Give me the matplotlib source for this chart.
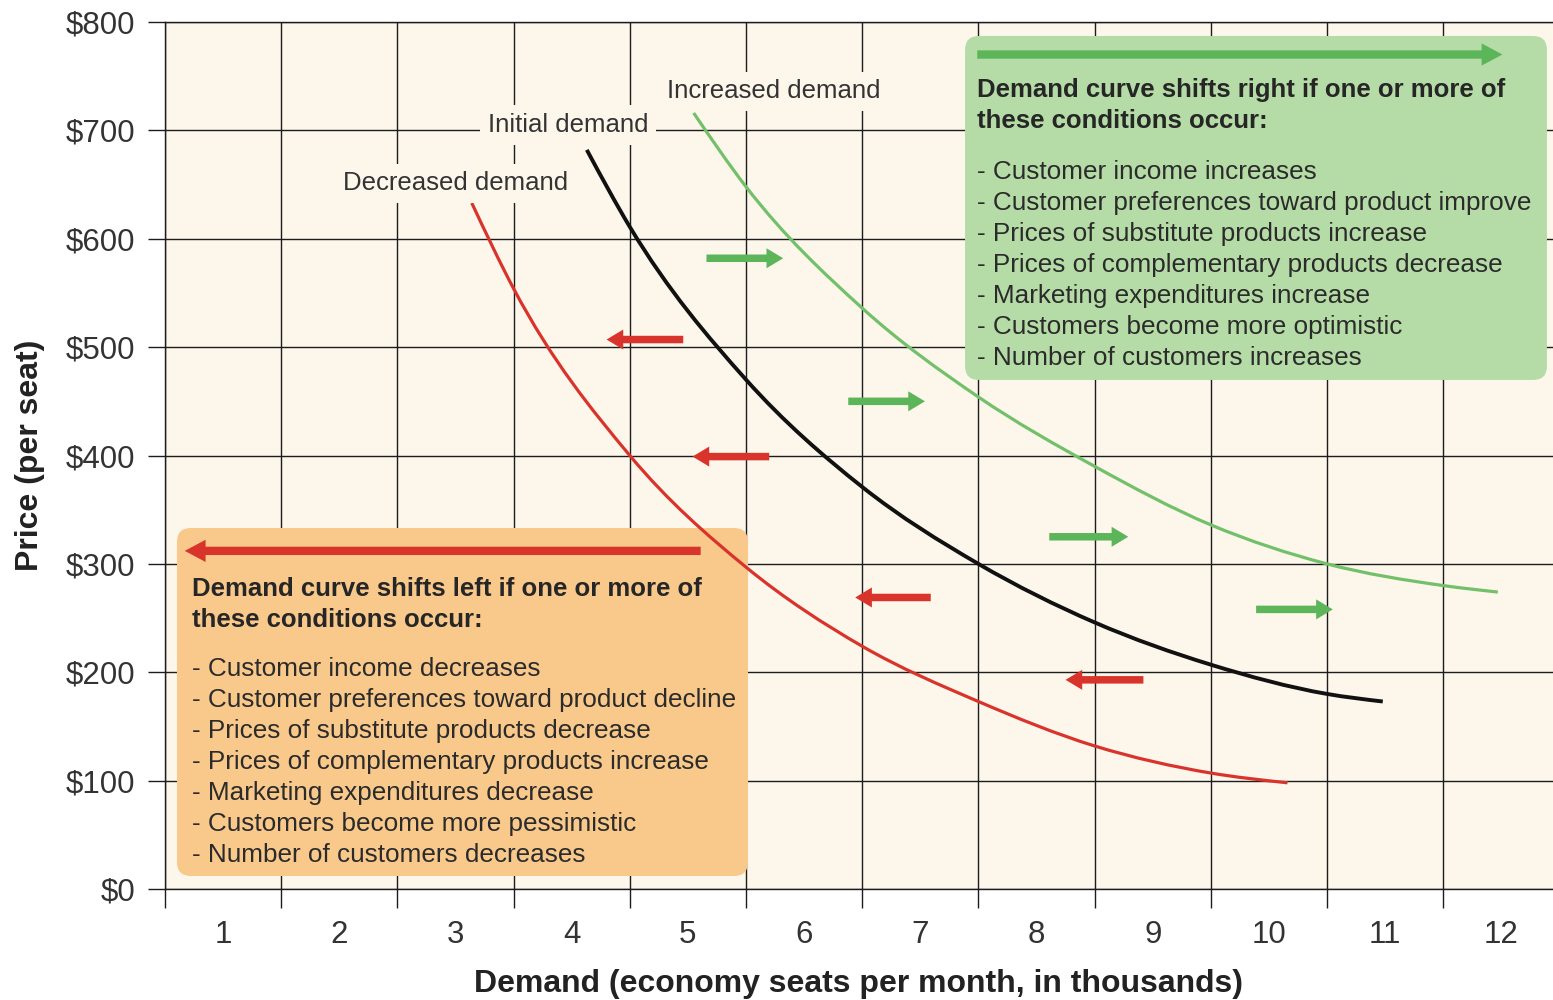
import matplotlib.pyplot as plt
from matplotlib.patches import FancyBboxPatch, PathPatch
from matplotlib.path import Path
import numpy as np

plt.rcParams["font.family"] = ["Liberation Sans", "DejaVu Sans"]

# demand curves (x: thousands of seats, y: $ per seat)
initial_x = [4.13, 4.5, 5.5, 6.5, 7.5, 8.5, 9.5, 10.5, 10.98]
initial_y = [682, 611, 470, 371, 300, 246, 207, 180, 173]
increased_x = [5.05, 5.5, 6.5, 7.5, 8.5, 9.5, 10.5, 11.5, 11.97]
increased_y = [716, 648, 536, 454, 390, 336, 300, 280, 274]
decreased_x = [3.14, 3.5, 4.5, 5.5, 6.5, 7.5, 8.5, 9.5, 10.16]
decreased_y = [633, 554, 400, 297, 224, 173, 132, 107, 98]

# small shift arrows: from x, to x, price level
right_from = [5.16, 6.38, 8.11, 9.89]
right_to = [5.82, 7.04, 8.79, 10.55]
right_y = [582, 450, 325, 258]
left_from = [4.96, 5.70, 7.09, 8.92]
left_to = [4.30, 5.04, 6.44, 8.25]
left_y = [507, 399, 269, 193]

x_ticks = list(range(1, 13))
y_ticks = list(range(0, 801, 100))

right_title = ["Demand curve shifts right if one or more of", "these conditions occur:"]
right_items = [
    "- Customer income increases",
    "- Customer preferences toward product improve",
    "- Prices of substitute products increase",
    "- Prices of complementary products decrease",
    "- Marketing expenditures increase",
    "- Customers become more optimistic",
    "- Number of customers increases",
]
left_title = ["Demand curve shifts left if one or more of", "these conditions occur:"]
left_items = [
    "- Customer income decreases",
    "- Customer preferences toward product decline",
    "- Prices of substitute products decrease",
    "- Prices of complementary products increase",
    "- Marketing expenditures decrease",
    "- Customers become more pessimistic",
    "- Number of customers decreases",
]

BG = "#fdf6eb"
GRID = "#1c1c1c"
RED = "#d8342c"
GREEN_LINE = "#72c06a"
GREEN_ARROW = "#5db55a"
TEXT = "#333333"


def curve(ax, xs, ys, color, lw):
    """Draw a smooth line through the read points (cubic Hermite in x)"""
    x = np.asarray(xs, float)
    y = np.asarray(ys, float)
    s = np.diff(y) / np.diff(x)
    m = np.empty_like(y)
    for i in range(1, len(x) - 1):
        h0, h1 = x[i] - x[i - 1], x[i + 1] - x[i]
        m[i] = (h1 * s[i - 1] + h0 * s[i]) / (h0 + h1)
    m[0] = 1.5 * s[0] - 0.5 * m[1]
    m[-1] = 1.5 * s[-1] - 0.5 * m[-2]
    verts = [(x[0], y[0])]
    codes = [Path.MOVETO]
    for i in range(len(x) - 1):
        h = (x[i + 1] - x[i]) / 3
        verts += [(x[i] + h, y[i] + m[i] * h), (x[i + 1] - h, y[i + 1] - m[i + 1] * h), (x[i + 1], y[i + 1])]
        codes += [Path.CURVE4] * 3
    patch = PathPatch(Path(verts, codes), fill=False, ec=color, lw=lw, capstyle="butt", zorder=3)
    ax.add_patch(patch)


def arrow(ax, x0, x1, y, color, tail, head_w, head_l):
    """Horizontal block arrow, sizes given in points"""
    ax.annotate(
        "",
        xy=(x1, y),
        xytext=(x0, y),
        arrowprops=dict(
            arrowstyle=f"simple,head_length={head_l / 10},head_width={head_w / 10},tail_width={tail / 10}",
            mutation_scale=10,
            color=color,
            lw=0,
            shrinkA=0,
            shrinkB=0,
        ),
        zorder=4,
    )


def text_box(ax, x0, x1, y0, y1, color, title, items, x_text, y_title, y_items):
    # x unit ~116 px, y unit ~1.084 px -> keep corners round
    box = FancyBboxPatch(
        (x0, y0), x1 - x0, y1 - y0,
        boxstyle="round,pad=0,rounding_size=0.12",
        mutation_aspect=107.2,
        fc=color, ec="none", zorder=1.5,
    )
    ax.add_patch(box)
    for i, line in enumerate(title):
        ax.text(x_text, y_title - i * 28.6, line, fontsize=18.5, fontweight="bold",
                color="#262626", va="center", ha="left", zorder=5)
    for i, line in enumerate(items):
        ax.text(x_text, y_items - i * 28.6, line, fontsize=18.8,
                color="#2b2b2b", va="center", ha="left", zorder=5)


fig = plt.figure(figsize=(15.53, 10), dpi=100)
ax = fig.add_axes([165 / 1553, 111 / 1000, 1388 / 1553, 867 / 1000])
ax.set_facecolor(BG)
ax.set_xlim(0.5, 12.445)
ax.set_ylim(0, 800)

ax.set_xticks(x_ticks)
ax.set_xticks(np.arange(0.5, 12, 1), minor=True)
ax.set_yticks(y_ticks)
ax.set_yticklabels([f"\\${v}" for v in y_ticks])
ax.tick_params(axis="x", which="major", length=0, pad=22, labelsize=22.5, labelcolor=TEXT)
ax.tick_params(axis="x", which="minor", length=13.7, width=1, color=GRID)
ax.tick_params(axis="y", length=12.2, width=1, color=GRID, pad=9, labelsize=22.5, labelcolor=TEXT)
ax.xaxis.grid(True, which="minor", color=GRID, lw=1)
ax.yaxis.grid(True, which="major", color=GRID, lw=1)
ax.set_axisbelow(True)
for side in ["left", "bottom", "top"]:
    ax.spines[side].set_color(GRID)
    ax.spines[side].set_linewidth(1)
ax.spines["right"].set_visible(False)

ax.set_xlabel("Demand (economy seats per month, in thousands)", fontsize=23,
              fontweight="bold", color="#222222", labelpad=14)
ax.set_ylabel("Price (per seat)", fontsize=23, fontweight="bold", color="#222222", labelpad=15)

# boxes
text_box(ax, 7.385, 12.393, 469.7, 787.1, "#b5dca6", right_title, right_items, 7.488, 737.2, 661.6)
text_box(ax, 0.603, 5.517, 12.0, 333.1, "#f9c98c", left_title, left_items, 0.732, 276.7, 203.0)
arrow(ax, 7.49, 12.01, 770, GREEN_ARROW, 6, 16, 15)
arrow(ax, 5.11, 0.67, 312, RED, 6, 16, 15)

# curves
curve(ax, decreased_x, decreased_y, RED, 2.3)
curve(ax, initial_x, initial_y, "#111111", 2.8)
curve(ax, increased_x, increased_y, GREEN_LINE, 2.3)

for x0, x1, y in zip(right_from, right_to, right_y):
    arrow(ax, x0, x1, y, GREEN_ARROW, 5.4, 14.4, 12)
for x0, x1, y in zip(left_from, left_to, left_y):
    arrow(ax, x0, x1, y, RED, 5.4, 14.4, 12)

ax.text(5.741, 736, "Increased demand", fontsize=18.5, color=TEXT, ha="center", va="center",
        bbox=dict(boxstyle="square,pad=0.3", fc=BG, ec="none"), zorder=3.5)
ax.text(3.968, 705, "Initial demand", fontsize=18.5, color=TEXT, ha="center", va="center",
        bbox=dict(boxstyle="square,pad=0.3", fc=BG, ec="none"), zorder=3.5)
ax.text(3.004, 651, "Decreased demand", fontsize=18.5, color=TEXT, ha="center", va="center",
        bbox=dict(boxstyle="square,pad=0.3", fc=BG, ec="none"), zorder=3.5)

fig.savefig("out.png", dpi=100, facecolor="white")
